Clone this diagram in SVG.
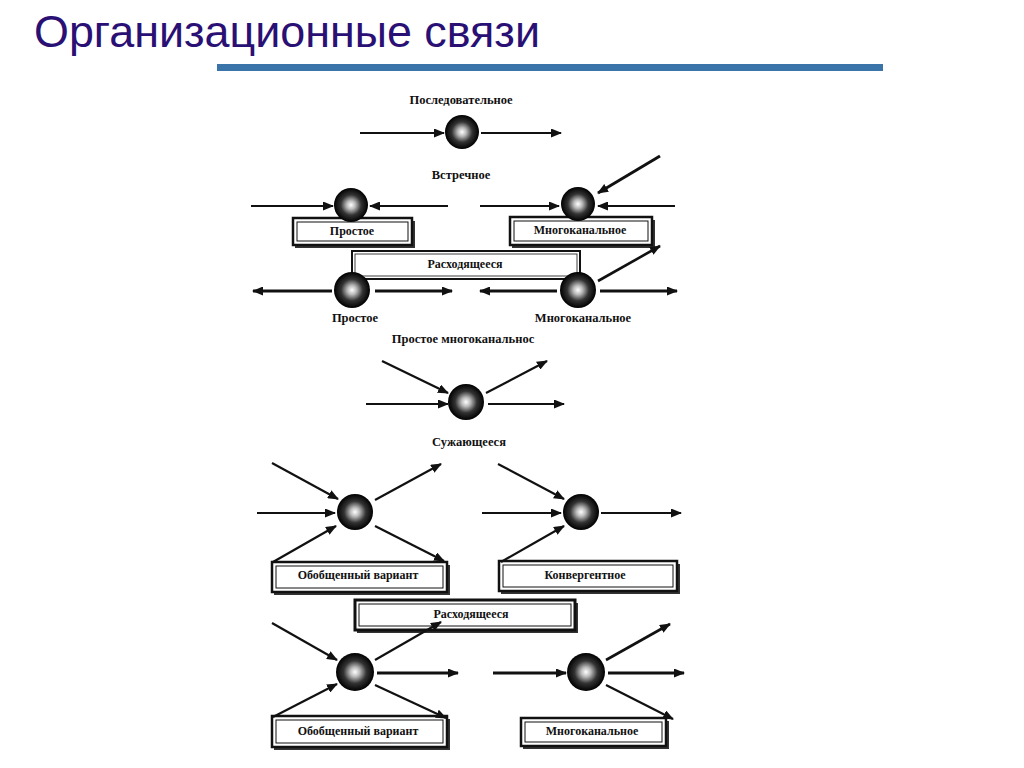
<svg xmlns="http://www.w3.org/2000/svg" width="1024" height="768" viewBox="0 0 1024 768">
<style>
.title{font-family:"Liberation Sans",Arial,sans-serif;font-size:44px;fill:#2a1074}
.lbl{font-family:"Liberation Serif","Times New Roman",serif;font-size:12.5px;font-weight:bold;fill:#111;text-anchor:middle}
.bt{font-family:"Liberation Serif","Times New Roman",serif;font-size:12px;font-weight:bold;fill:#111;text-anchor:middle}
.ar{stroke:#111;stroke-width:2.2;fill:none;marker-end:url(#ah)}
.bo{fill:#fff;stroke:#111;stroke-width:2.5}
.bi{fill:none;stroke:#111;stroke-width:1}
.sh{fill:#333}
.nd{fill:url(#ball)}
</style>
<defs>
<radialGradient id="ball" cx="50%" cy="50%" r="50%">
<stop offset="0" stop-color="#fff"/>
<stop offset="0.25" stop-color="#bbb"/>
<stop offset="0.6" stop-color="#333"/>
<stop offset="1" stop-color="#000"/>
</radialGradient>
<marker id="ah" markerUnits="userSpaceOnUse" markerWidth="11" markerHeight="9" refX="10" refY="4.5" orient="auto">
<path d="M0,0 L11,4.5 L0,9 z" fill="#111"/>
</marker>
</defs>
<rect width="1024" height="768" fill="#fff"/>
<text class="title" x="34" y="47" textLength="506" lengthAdjust="spacingAndGlyphs">Организационные связи</text>
<rect x="217" y="64" width="666" height="7" fill="#3a74a8"/>

<g id="labels">
<text class="lbl" x="461" y="104">Последовательное</text>
<text class="lbl" x="461" y="179">Встречное</text>
<text class="lbl" x="355" y="322">Простое</text>
<text class="lbl" x="583" y="322">Многоканальное</text>
<text class="lbl" x="463" y="343">Простое многоканальнос</text>
<text class="lbl" x="469" y="446">Сужающееся</text>
</g>

<g id="box-rash1">
<rect x="352" y="251" width="228" height="28" fill="#fff" stroke="#111" stroke-width="2"/>
<rect x="355" y="254" width="222" height="22" fill="none" stroke="#111" stroke-width="0.8"/>
<text class="bt" x="465" y="268">Расходящееся</text>
</g>
<g id="box-prostoe1">
<rect class="sh" x="295" y="221" width="120" height="27"/>
<rect class="bo" x="293" y="218" width="119" height="27"/>
<rect class="bi" x="297" y="222" width="111" height="19"/>
<text class="bt" x="352" y="235">Простое</text>
</g>
<g id="box-mnogo1">
<rect class="sh" x="512" y="220" width="143" height="28"/>
<rect class="bo" x="510" y="217" width="142" height="28"/>
<rect class="bi" x="514" y="221" width="134" height="20"/>
<text class="bt" x="580" y="234">Многоканальное</text>
</g>
<g id="box-obob1">
<rect class="sh" x="274" y="565" width="176" height="30"/>
<rect class="bo" x="272" y="562" width="175" height="30"/>
<rect class="bi" x="276" y="566" width="167" height="22"/>
<text class="bt" x="358" y="579">Обобщенный вариант</text>
</g>
<g id="box-konv">
<rect class="sh" x="501" y="564" width="179" height="30"/>
<rect class="bo" x="499" y="561" width="178" height="30"/>
<rect class="bi" x="503" y="565" width="170" height="22"/>
<text class="bt" x="585" y="579">Конвергентное</text>
</g>
<g id="box-rash2">
<rect class="sh" x="357" y="603" width="221" height="30"/>
<rect class="bo" x="355" y="600" width="220" height="30" style="stroke-width:3"/>
<rect class="bi" x="359" y="604" width="212" height="22"/>
<text class="bt" x="471" y="618">Расходящееся</text>
</g>
<g id="box-obob2">
<rect class="sh" x="274" y="719" width="176" height="31"/>
<rect class="bo" x="272" y="716" width="175" height="31"/>
<rect class="bi" x="276" y="720" width="167" height="23"/>
<text class="bt" x="358" y="735">Обобщенный вариант</text>
</g>
<g id="box-mnogo2">
<rect class="sh" x="523" y="721" width="146" height="28"/>
<rect class="bo" x="521" y="718" width="145" height="28"/>
<rect class="bi" x="525" y="722" width="137" height="20"/>
<text class="bt" x="592" y="735">Многоканальное</text>
</g>

<g id="connectors">
<line class="ar" x1="360" y1="133" x2="444" y2="133"/>
<line class="ar" x1="481" y1="133" x2="561" y2="133"/>
<line class="ar" x1="251" y1="206" x2="333" y2="206"/>
<line class="ar" x1="448" y1="206" x2="370" y2="206"/>
<line class="ar" x1="480" y1="206" x2="559" y2="206"/>
<line class="ar" x1="675" y1="206" x2="598" y2="206"/>
<line class="ar" x1="660" y1="156" x2="598" y2="193" style="stroke-width:3"/>
<line class="ar" x1="332" y1="291" x2="253" y2="291" style="stroke-width:3"/>
<line class="ar" x1="375" y1="291" x2="452" y2="291" style="stroke-width:3"/>
<line class="ar" x1="557" y1="291" x2="480" y2="291" style="stroke-width:3"/>
<line class="ar" x1="600" y1="291" x2="677" y2="291" style="stroke-width:3"/>
<line class="ar" x1="598" y1="281" x2="660" y2="246" style="stroke-width:2.6"/>
<line class="ar" x1="382" y1="361" x2="448" y2="393"/>
<line class="ar" x1="366" y1="404" x2="448" y2="404"/>
<line class="ar" x1="486" y1="393" x2="547" y2="361"/>
<line class="ar" x1="488" y1="404" x2="564" y2="404"/>
<line class="ar" x1="272" y1="463" x2="338" y2="499"/>
<line class="ar" x1="257" y1="513" x2="335" y2="513"/>
<line class="ar" x1="273" y1="562" x2="336" y2="526"/>
<line class="ar" x1="375" y1="500" x2="441" y2="464"/>
<line class="ar" x1="375" y1="526" x2="444" y2="561"/>
<line class="ar" x1="498" y1="464" x2="564" y2="499"/>
<line class="ar" x1="482" y1="513" x2="561" y2="513"/>
<line class="ar" x1="501" y1="562" x2="564" y2="526"/>
<line class="ar" x1="601" y1="513" x2="681" y2="513"/>
<line class="ar" x1="272" y1="623" x2="337" y2="660"/>
<line class="ar" x1="273" y1="717" x2="337" y2="684"/>
<line class="ar" x1="375" y1="660" x2="441" y2="622"/>
<line class="ar" x1="377" y1="673" x2="458" y2="673" style="stroke-width:3"/>
<line class="ar" x1="375" y1="685" x2="446" y2="718"/>
<line class="ar" x1="493" y1="673" x2="566" y2="673" style="stroke-width:3"/>
<line class="ar" x1="606" y1="660" x2="670" y2="624" style="stroke-width:2.6"/>
<line class="ar" x1="608" y1="673" x2="684" y2="673" style="stroke-width:3"/>
<line class="ar" x1="606" y1="685" x2="673" y2="719"/>
</g>

<g id="n1"><circle class="nd" cx="462" cy="132" r="17"/></g>
<g id="n2"><circle class="nd" cx="351" cy="205" r="17"/></g>
<g id="n3"><circle class="nd" cx="578" cy="204" r="17"/></g>
<g id="n4"><circle class="nd" cx="352" cy="290" r="18"/></g>
<g id="n5"><circle class="nd" cx="578" cy="290" r="18"/></g>
<g id="n6"><circle class="nd" cx="466" cy="402" r="18"/></g>
<g id="n7"><circle class="nd" cx="355" cy="512" r="18"/></g>
<g id="n8"><circle class="nd" cx="581" cy="512" r="18"/></g>
<g id="n9"><circle class="nd" cx="355" cy="672" r="19"/></g>
<g id="n10"><circle class="nd" cx="586" cy="672" r="19"/></g>
</svg>
